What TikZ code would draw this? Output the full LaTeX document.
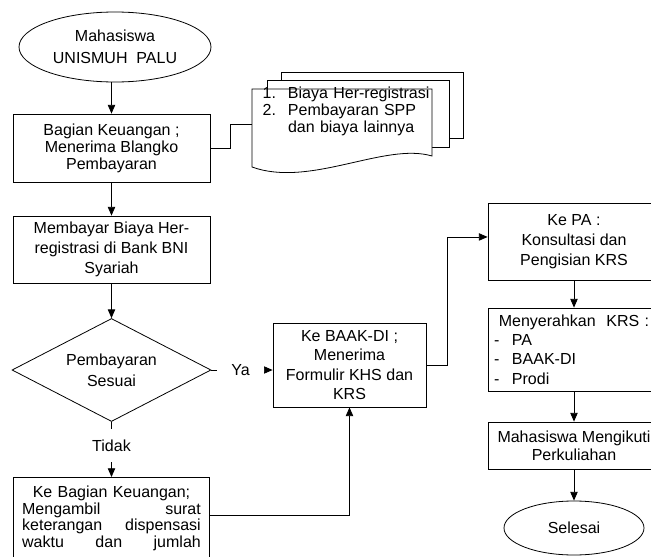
\documentclass[tikz,border=0pt]{standalone}
\usepackage{fontspec}
\setmainfont{Liberation Sans}
\usepackage{tikz}
\usetikzlibrary{calc, arrows.meta, positioning, shapes.geometric}

\tikzset{
  kotak/.style={draw, rectangle, align=center, inner sep=0pt, font=\fontsize{12}{14.5}\selectfont},
  oval/.style={draw, ellipse, align=center, inner sep=0pt, font=\fontsize{12}{16.5}\selectfont},
  keputusan/.style={draw, diamond, aspect=2, align=center, inner sep=0pt, font=\fontsize{12}{15.5}\selectfont},
  panah/.style={-{Triangle[length=6.5pt,width=5.5pt]}},
  ket/.style={fill=white, font=\fontsize{12}{14}\selectfont},
}

\begin{document}
\begin{tikzpicture}[x=0.75pt,y=-0.75pt,line width=0.6pt]
            \useasboundingbox (0,0) rectangle (651,557);
            \clip (0,0) rectangle (651,557);

            % kolom kiri
            \node [oval, minimum width=144pt, minimum height=52.5pt] (mhs) at (115,47) {Mahasiswa\\UNISMUH\ \ PALU};
            \node [kotak, minimum width=147.75pt, minimum height=51pt, font=\fontsize{12}{12.75}\selectfont] (keu) at (111.5,148) {Bagian Keuangan ;\\Menerima Blangko\\Pembayaran};
            \node [kotak, minimum width=147.75pt, minimum height=50.25pt, font=\fontsize{12}{15}\selectfont] (bayar) at (111.5,249.5) {Membayar Biaya Her-\\registrasi di Bank BNI\\Syariah};
            \node [keputusan, minimum width=149.25pt, minimum height=77.25pt] (sesuai) at (111.5,370) {Pembayaran\\Sesuai};
            \node [kotak, anchor=north, text width=134pt, inner xsep=6.75pt, inner ysep=6pt, text height=9pt, text depth=70pt, align=left, font=\fontsize{12}{12.5}\selectfont] (dispensasi) at (111.5,477) {\hfill Ke Bagian Keuangan;\hfill\null\\Mengambil\hfill surat\\keterangan\hfill dispensasi\\waktu\hfill dan\hfill jumlah};

            % dokumen (tiga lembar)
            \draw [fill=white] (281,138) -- (281,72) -- (463,72) -- (463,138) -- cycle;
            \draw [fill=white] (267,147) -- (267,80) -- (449,80) -- (449,147) -- cycle;
            \draw [fill=white] (252,167) -- (252,89) -- (432,89) -- (432,156) .. controls (385,142) and (310,188) .. (252,167) -- cycle;
            \node [text width=135pt, inner sep=0pt, text height=6.75pt, text depth=46.5pt, align=left, font=\fontsize{12}{12.75}\selectfont] (rincian) at (342,124.5) {\hspace*{8pt}\makebox[19pt][l]{1.}Biaya Her-registrasi\\\hspace*{8pt}\makebox[19pt][l]{2.}Pembayaran SPP\\\hspace*{27pt}dan biaya lainnya};

            % tengah dan kanan
            \node [kotak, minimum width=114.75pt, minimum height=63pt] (baak) at (349.5,365) {Ke BAAK-DI ;\\Menerima\\Formulir KHS dan\\KRS};
            \node [kotak, minimum width=129pt, minimum height=57.75pt, font=\fontsize{12}{15}\selectfont] (pa) at (574,241.5) {Ke PA :\\Konsultasi dan\\Pengisian KRS};
            \node [kotak, text width=120pt, inner xsep=4.5pt, minimum height=62.25pt, align=left] (serah) at (574,349.5) {\hfill Menyerahkan\ \ KRS :\hfill\null\\\makebox[13.5pt][l]{-}PA\\\makebox[13.5pt][l]{-}BAAK-DI\\\makebox[13.5pt][l]{-}Prodi};
            \node [kotak, minimum width=129pt, minimum height=35.25pt, font=\fontsize{12}{13.5}\selectfont] (ikut) at (574,445.5) {Mahasiswa Mengikuti\\Perkuliahan};
            \node [oval, minimum width=105pt, minimum height=40.5pt] (selesai) at (574,528) {Selesai};

            \draw [panah] (keu.north |- mhs.south) -- (keu.north);
            \draw [panah] (keu.south) -- (bayar.north);
            \draw [panah] (bayar.south) -- (sesuai.north);
            \draw (keu.east) -- ++(20,0) |- (rincian.west);
            \draw [panah] (sesuai.east) -- node [ket, pos=0.475, inner xsep=10.5pt] {Ya} (sesuai.east -| baak.west);
            \draw [panah] (sesuai.south) -- node [ket, pos=0.43, inner ysep=8pt] {Tidak} (dispensasi.north);
            \coordinate (dispkanan) at ([yshift=-28.5pt]dispensasi.north east);
            \draw [panah] (dispkanan) -| (baak.south);
            \draw [panah] (baak.east) -- ++(21,0) |- ([yshift=3.4pt]pa.west);
            \draw [panah] (pa.south) -- (serah.north);
            \draw [panah] (serah.south) -- (ikut.north);
            \draw [panah] (ikut.south) -- (selesai.north);
\end{tikzpicture}
\end{document}
